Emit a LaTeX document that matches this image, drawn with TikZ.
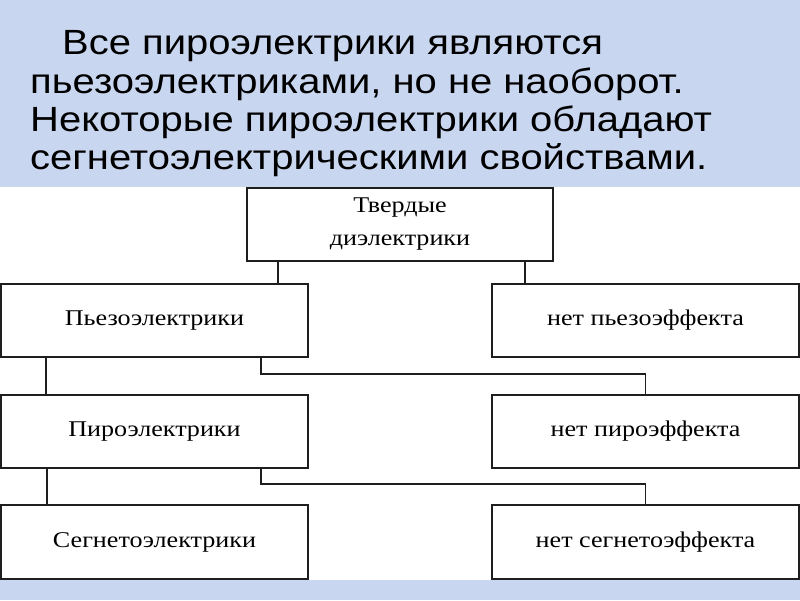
\documentclass[tikz,border=0pt]{standalone}
\usepackage{fontspec}
\setmainfont{Liberation Serif}
\newfontfamily\slidefont{Liberation Sans}
\usetikzlibrary{positioning}
\definecolor{slideblue}{RGB}{201,214,240}
\definecolor{boxline}{RGB}{30,30,30}
\newcommand{\wide}[1]{\scalebox{1.16}[1]{#1}}
\tikzstyle{box} = [rectangle, draw=boxline, line width=1.6pt, fill=white, minimum width=307pt, minimum height=73pt, inner sep=0pt, text centered, font=\fontsize{22.5}{33}\selectfont]
\tikzstyle{link} = [draw=boxline, line width=1.6pt]

\begin{document}
\begin{tikzpicture}[x=1pt,y=-1pt]
			% slide background
			\fill [slideblue] (0,0) rectangle (800,600);
			\fill [white] (0,187) rectangle (800,580);
			\useasboundingbox (0,0) rectangle (800,600);

			\node (title) [anchor=north west, inner sep=0pt, font=\slidefont\fontsize{35}{38.3}\selectfont] at (30,30.5) {\scalebox{1.142}[1]{\parbox{620pt}{\raggedright\hspace*{28pt}Все пироэлектрики являются\\пьезоэлектриками, но не наоборот.\\Некоторые пироэлектрики обладают\\сегнетоэлектрическими свойствами.}}};

			\node (tv) [box, minimum width=306pt, align=center] at (400,224.5) {\wide{Твердые}\\\wide{диэлектрики}};
			\node (pz) [box] at (154.5,320.5) {\wide{Пьезоэлектрики}};
			\node (npz) [box] at (645.5,320.5) {\wide{нет пьезоэффекта}};
			\node (pr) [box] at (154.5,431.5) {\raisebox{2pt}{\wide{Пироэлектрики}}};
			\node (npr) [box] at (645.5,431.5) {\wide{нет пироэффекта}};
			\node (sg) [box, minimum height=74pt] at (154.5,542) {\wide{Сегнетоэлектрики}};
			\node (nsg) [box, minimum height=74pt] at (645.5,542) {\wide{нет сегнетоэффекта}};

			\draw [link] ([xshift=-122pt]tv.south) -- ([xshift=-122pt]tv.south |- pz.north);
			\draw [link] ([xshift=125pt]tv.south) -- ([xshift=125pt]tv.south |- npz.north);
			\draw [link] ([xshift=-108.5pt]pz.south) -- ([xshift=-108.5pt]pz.south |- pr.north);
			\draw [link] ([xshift=106.5pt]pz.south) -- ++(0,16) -| (npr.north);
			\draw [link] ([xshift=-107.5pt]pr.south) -- ([xshift=-107.5pt]pr.south |- sg.north);
			\draw [link] ([xshift=106.5pt]pr.south) -- ++(0,15) -| (nsg.north);
\end{tikzpicture}
\end{document}
